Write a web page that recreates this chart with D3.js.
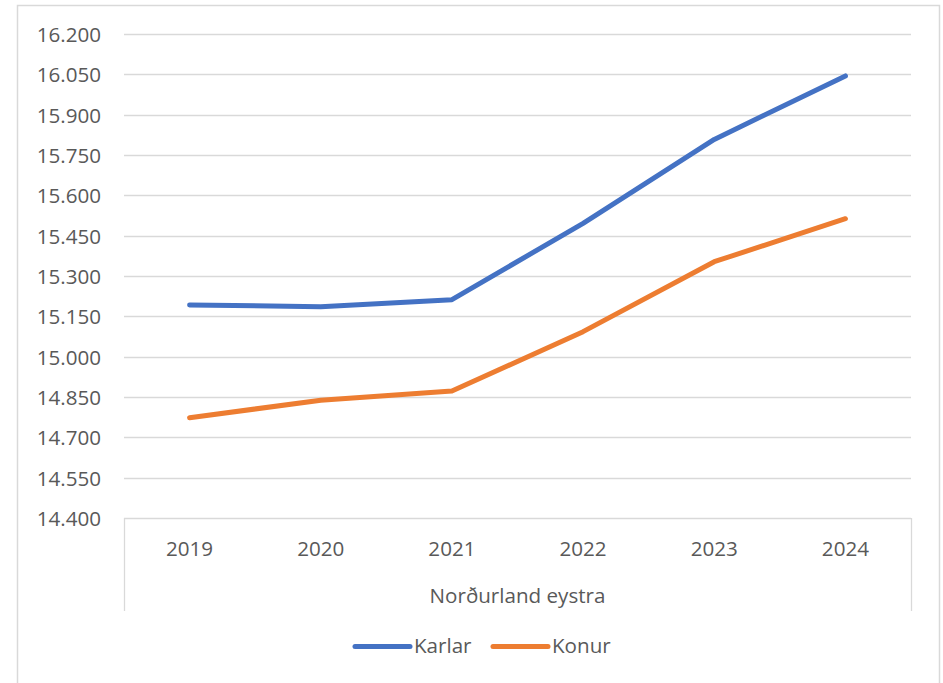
<!DOCTYPE html>
<html>
<head>
<meta charset="utf-8">
<script src="https://cdn.jsdelivr.net/npm/d3@7"></script>
<style>
  html, body { margin: 0; padding: 0; background: #fff; }
  svg { display: block; }
  text { font-family: "Open Sans", "Noto Sans", sans-serif; fill: #595959; }
</style>
</head>
<body>
<svg id="chart" width="943" height="683"></svg>
<script>
const years = ["2019", "2020", "2021", "2022", "2023", "2024"];
const karlar = [15192, 15186, 15212, 15496, 15808, 16044];
const konur = [14773, 14838, 14872, 15093, 15353, 15513];
const yTicks = [14400, 14550, 14700, 14850, 15000, 15150, 15300, 15450, 15600, 15750, 15900, 16050, 16200];
const seriesNames = ["Karlar", "Konur"];
const seriesColors = ["#4472C4", "#ED7D31"];
const axisTitle = "Norðurland eystra";

(function () {
const svg = d3.select("#chart");
const pLeft = 124, pRight = 911, pTop = 34, pBottom = 518, catBottom = 611;
const fs = 20.6;

const locale = d3.formatLocale({ decimal: ",", thousands: ".", grouping: [3], currency: ["", " kr."] });
const fmt = locale.format(",d");

// outer border
svg.append("rect")
  .attr("x", 17.5).attr("y", 5.5)
  .attr("width", 922).attr("height", 700)
  .attr("fill", "none").attr("stroke", "#d9d9d9").attr("stroke-width", 1.5);

const x = d3.scalePoint().domain(years).range([pLeft, pRight]).padding(0.5);
const y = d3.scaleLinear().domain([14400, 16200]).range([pBottom, pTop]);

// gridlines
svg.append("g").selectAll("line").data(yTicks).join("line")
  .attr("x1", pLeft).attr("x2", pRight)
  .attr("y1", d => Math.round(y(d)) + 0.5).attr("y2", d => Math.round(y(d)) + 0.5)
  .attr("stroke", "#d9d9d9").attr("stroke-width", 1.3);

// category axis box sides
[pLeft, pRight].forEach(xx => {
  svg.append("line")
    .attr("x1", xx + 0.5).attr("x2", xx + 0.5)
    .attr("y1", pBottom).attr("y2", catBottom)
    .attr("stroke", "#d9d9d9").attr("stroke-width", 1.3);
});

// y tick labels
svg.append("g").selectAll("text").data(yTicks).join("text")
  .attr("x", 101).attr("y", d => y(d))
  .attr("text-anchor", "end").attr("dominant-baseline", "central")
  .attr("font-size", fs)
  .text(d => fmt(d));

// x labels
svg.append("g").selectAll("text").data(years).join("text")
  .attr("x", d => x(d)).attr("y", 556)
  .attr("text-anchor", "middle").attr("font-size", fs)
  .text(d => d);

svg.append("text")
  .attr("x", (pLeft + pRight) / 2).attr("y", 603)
  .attr("text-anchor", "middle").attr("font-size", fs)
  .text(axisTitle);

// lines
const line = d3.line().x((d, i) => x(years[i])).y(d => y(d));
[karlar, konur].forEach((s, i) => {
  svg.append("path").datum(s)
    .attr("d", line)
    .attr("fill", "none").attr("stroke", seriesColors[i])
    .attr("stroke-width", 5).attr("stroke-linecap", "round").attr("stroke-linejoin", "round");
});

// legend
const legendX = [355, 493];
seriesNames.forEach((name, i) => {
  const lx = legendX[i];
  svg.append("line")
    .attr("x1", lx).attr("x2", lx + 55)
    .attr("y1", 646.5).attr("y2", 646.5)
    .attr("stroke", seriesColors[i]).attr("stroke-width", 5).attr("stroke-linecap", "round");
  svg.append("text")
    .attr("x", lx + 59).attr("y", 653)
    .attr("font-size", fs)
    .text(name);
});
})();
</script>
</body>
</html>
